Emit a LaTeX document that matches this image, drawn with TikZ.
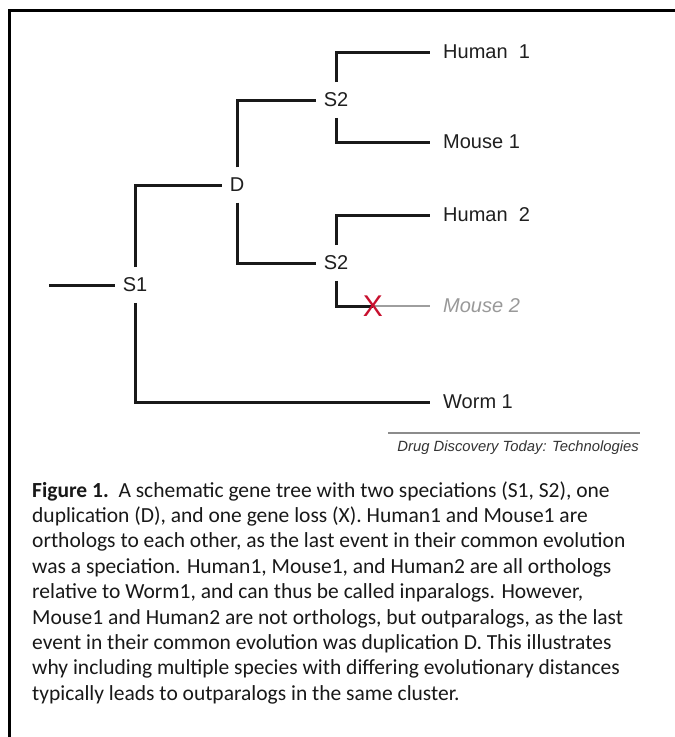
\documentclass[tikz,border=0pt]{standalone}
\usepackage{fontspec}
\setmainfont{Carlito}
\newfontfamily\treefont{Liberation Sans}
\begin{document}
\begin{tikzpicture}[x=1pt,y=-1pt,
  tline/.style={line width=3pt, draw=black!90},
  gline/.style={line width=2.2pt, draw=black!38},
  event/.style={font=\treefont\fontsize{20}{22}\selectfont, inner xsep=8pt, inner ysep=10.5pt, text=black!88},
  leaf/.style={font=\treefont\fontsize{20}{22}\selectfont, anchor=west, inner xsep=13pt, inner ysep=0pt, text=black!88},
  capline/.style={font=\fontsize{21.5}{24}\selectfont, anchor=base west, inner sep=0pt, text=black!90}]
\useasboundingbox (0,0) rectangle (675,737);
\fill[white] (0,0) rectangle (675,737);
% frame
\draw[line width=3pt] (9.5,737) -- (9.5,10) -- (675,10);
% event nodes
\node[event] (S1) at (135,285) {S1};
\node[event] (D) at (237,185) {D};
\node[event] (S2a) at (336,100) {S2};
\node[event] (S2b) at (336,263) {S2};
% leaves
\node[leaf] (H1) at (430,52) {Human\ \ 1};
\node[leaf] (M1) at (430,142) {Mouse 1};
\node[leaf] (H2) at (430,215) {Human\ \ 2};
\node[leaf, text=black!40, font=\treefont\itshape\fontsize{20}{22}\selectfont] (M2) at (430,306) {Mouse 2};
\node[leaf] (W1) at (430,402) {Worm 1};
\coordinate (root) at (49,285);
\coordinate (loss) at (373,306);
% connectors
\draw[tline] (root) -- (S1.west);
\draw[tline] (S1.north) |- (D.west);
\draw[tline] (S1.south) |- (W1.west);
\draw[tline] (D.north) |- (S2a.west);
\draw[tline] (D.south) |- (S2b.west);
\draw[tline] (S2a.north) |- (H1.west);
\draw[tline] (S2a.south) |- (M1.west);
\draw[tline] (S2b.north) |- (H2.west);
\draw[tline] (S2b.south) |- (loss);
\draw[gline] (loss) -- (M2.west);
\node[font=\treefont\fontsize{30}{30}\selectfont, text={rgb,255:red,200;green,16;blue,46}, inner sep=0pt] (X) at (373,306) {X};
% credit
\coordinate (crA) at (388,433);
\coordinate (crB) at (640,433);
\draw[line width=1.3pt, draw=black!45] (crA) -- (crB);
\node[font=\treefont\itshape\fontsize{14.8}{16}\selectfont, text=black!80, anchor=base east, inner sep=0pt] (credit) at (639,451) {Drug Discovery Today: Technologies};
% caption
\node[capline] (c1) at (32,497) {\textbf{Figure 1.}\ \ A schematic gene tree with two speciations (S1, S2), one};
\node[capline] (c2) at (32,522.4) {duplication (D), and one gene loss (X). Human1 and Mouse1 are};
\node[capline] (c3) at (32,547.8) {orthologs to each other, as the last event in their common evolution};
\node[capline] (c4) at (32,573.2) {was a speciation. Human1, Mouse1, and Human2 are all orthologs};
\node[capline] (c5) at (32,598.6) {relative to Worm1, and can thus be called inparalogs. However,};
\node[capline] (c6) at (32,624) {Mouse1 and Human2 are not orthologs, but outparalogs, as the last};
\node[capline] (c7) at (32,649.4) {event in their common evolution was duplication D. This illustrates};
\node[capline] (c8) at (32,674.8) {why including multiple species with differing evolutionary distances};
\node[capline] (c9) at (32,700.2) {typically leads to outparalogs in the same cluster.};
\end{tikzpicture}
\end{document}
